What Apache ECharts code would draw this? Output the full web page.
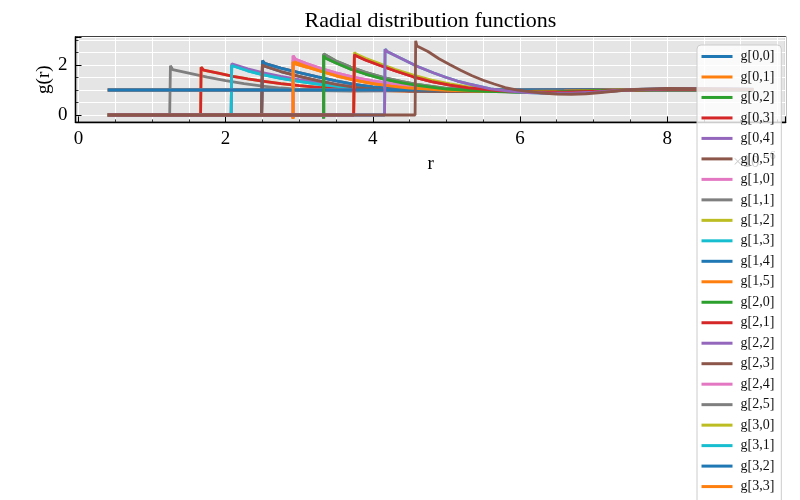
<!DOCTYPE html>
<html>
<head>
<meta charset="utf-8">
<script src="https://cdn.jsdelivr.net/npm/echarts@6/dist/echarts.min.js"></script>
<style>
  html, body { margin: 0; padding: 0; background: #fff; }
  #chart { width: 800px; height: 500px; }
</style>
</head>
<body>
<div id="chart"></div>
<script>
// tab10 colour cycle
var colors = ['#1f77b4', '#ff7f0e', '#2ca02c', '#d62728', '#9467bd',
              '#8c564b', '#e377c2', '#7f7f7f', '#bcbd22', '#17becf'];

var xTicks = [0, 2, 4, 6, 8];
var yTicks = [0, 2];

// species 0 has no correlation: g = 1 everywhere
var flat = [[0.4, 1], [9.17, 1]];

// [r, g(r)], one list per (i, j) pair
var g11 = [[0.4, 0], [1.24, 0], [1.25, -0.06], [1.25, 1.97], [1.28, 1.82], [1.5, 1.68], [1.75, 1.52], [2.0, 1.38], [2.25, 1.26], [2.5, 1.16], [2.75, 1.08], [3.0, 1.02], [3.3, 0.98], [3.7, 0.96], [4.2, 0.97], [4.8, 0.99], [5.6, 1.0], [9.17, 1.0]];
var g12 = [[0.4, 0], [1.66, 0], [1.667, -0.06], [1.667, 1.91], [1.7, 1.8], [1.9, 1.68], [2.1, 1.55], [2.3, 1.45], [2.5, 1.36], [2.75, 1.26], [3.0, 1.18], [3.3, 1.1], [3.6, 1.04], [4.0, 0.99], [4.5, 0.96], [5.0, 0.96], [5.6, 0.98], [6.4, 1.0], [9.17, 1.0]];
var g13 = [[0.4, 0], [2.075, 0], [2.083, -0.07], [2.083, 1.98], [2.11, 1.92], [2.3, 1.77], [2.5, 1.62], [2.75, 1.47], [3.0, 1.35], [3.3, 1.22], [3.6, 1.12], [4.0, 1.04], [4.5, 0.98], [5.0, 0.96], [5.6, 0.97], [6.3, 0.99], [7.2, 1.0], [9.17, 1.0]];
var g22 = [[0.4, 0], [2.075, 0], [2.083, -0.07], [2.083, 2.05], [2.11, 1.99], [2.3, 1.85], [2.5, 1.7], [2.75, 1.55], [3.0, 1.42], [3.3, 1.29], [3.6, 1.17], [4.0, 1.07], [4.5, 1.0], [5.0, 0.96], [5.6, 0.96], [6.3, 0.99], [7.2, 1.01], [9.17, 1.0]];
var g14 = [[0.4, 0], [2.49, 0], [2.5, -0.07], [2.5, 2.01], [2.53, 1.95], [2.75, 1.74], [3.0, 1.55], [3.25, 1.38], [3.5, 1.23], [3.75, 1.11], [4.0, 1.04], [4.5, 0.97], [5.0, 0.94], [5.5, 0.95], [6.2, 0.99], [7.0, 1.01], [9.17, 1.0]];
var g23 = [[0.4, 0], [2.49, 0], [2.5, -0.07], [2.5, 2.17], [2.53, 2.07], [2.75, 1.88], [3.0, 1.7], [3.25, 1.53], [3.5, 1.37], [3.75, 1.23], [4.0, 1.13], [4.5, 1.01], [5.0, 0.95], [5.5, 0.94], [6.2, 0.97], [7.0, 1.01], [9.17, 1.01]];
var g15 = [[0.4, 0], [2.91, 0], [2.917, -0.15], [2.917, 2.12], [2.95, 2.05], [3.1, 1.92], [3.3, 1.74], [3.5, 1.57], [3.75, 1.4], [4.0, 1.26], [4.25, 1.16], [4.5, 1.08], [5.0, 0.99], [5.5, 0.95], [6.0, 0.94], [6.6, 0.96], [7.3, 1.0], [8.2, 1.02], [9.17, 1.01]];
var g24 = [[0.4, 0], [2.91, 0], [2.917, -0.1], [2.917, 2.37], [2.95, 2.23], [3.1, 2.06], [3.3, 1.86], [3.5, 1.69], [3.75, 1.51], [4.0, 1.37], [4.25, 1.26], [4.5, 1.17], [5.0, 1.04], [5.5, 0.97], [6.0, 0.94], [6.6, 0.95], [7.3, 0.99], [8.2, 1.02], [9.17, 1.01]];
var g33 = [[0.4, 0], [2.91, 0], [2.917, -0.12], [2.917, 2.2], [2.95, 2.12], [3.1, 1.97], [3.3, 1.79], [3.5, 1.62], [3.75, 1.45], [4.0, 1.31], [4.25, 1.21], [4.5, 1.12], [5.0, 1.01], [5.5, 0.96], [6.0, 0.94], [6.6, 0.95], [7.3, 0.99], [8.2, 1.02], [9.17, 1.01]];
var g25 = [[0.4, 0], [3.325, 0], [3.333, -0.14], [3.333, 2.38], [3.36, 2.27], [3.5, 2.08], [3.7, 1.83], [3.9, 1.64], [4.15, 1.44], [4.4, 1.29], [4.6, 1.19], [5.0, 1.04], [5.5, 0.95], [6.0, 0.92], [6.5, 0.93], [7.0, 0.97], [7.5, 1.0], [8.3, 1.02], [9.17, 1.01]];
var g34 = [[0.4, 0], [3.325, 0], [3.333, -0.1], [3.333, 2.44], [3.36, 2.36], [3.5, 2.16], [3.7, 1.92], [3.9, 1.71], [4.15, 1.5], [4.4, 1.34], [4.6, 1.23], [5.0, 1.07], [5.5, 0.97], [6.0, 0.92], [6.5, 0.92], [7.0, 0.96], [7.5, 1.0], [8.3, 1.03], [9.17, 1.01]];
var g35 = [[0.4, 0], [3.74, 0], [3.75, -0.08], [3.75, 2.42], [3.78, 2.36], [3.9, 2.2], [4.1, 1.98], [4.3, 1.77], [4.55, 1.53], [4.8, 1.34], [5.05, 1.2], [5.3, 1.09], [5.7, 0.98], [6.2, 0.91], [6.6, 0.91], [7.1, 0.95], [7.5, 1.0], [8.0, 1.03], [8.6, 1.03], [9.17, 1.02]];
var g44 = [[0.4, 0], [3.74, 0], [3.75, -0.06], [3.75, 2.5], [3.78, 2.43], [3.9, 2.27], [4.1, 2.05], [4.3, 1.83], [4.55, 1.6], [4.8, 1.4], [5.05, 1.25], [5.3, 1.13], [5.7, 1.0], [6.2, 0.92], [6.6, 0.91], [7.1, 0.95], [7.5, 1.0], [8.0, 1.03], [8.6, 1.03], [9.17, 1.02]];
var g45 = [[0.4, 0], [4.16, 0], [4.167, -0.06], [4.167, 2.63], [4.2, 2.53], [4.38, 2.27], [4.6, 1.95], [4.83, 1.68], [5.0, 1.5], [5.15, 1.36], [5.3, 1.25], [5.6, 1.05], [5.85, 0.96], [6.1, 0.9], [6.4, 0.87], [6.7, 0.87], [7.0, 0.91], [7.3, 0.97], [7.6, 1.02], [8.0, 1.05], [8.5, 1.05], [9.17, 1.03]];
var g55 = [[0.4, 0], [4.575, 0], [4.583, -0.04], [4.583, 2.97], [4.6, 2.76], [4.75, 2.54], [4.9, 2.25], [5.05, 2.01], [5.2, 1.78], [5.35, 1.57], [5.5, 1.39], [5.65, 1.24], [5.8, 1.1], [5.95, 1.01], [6.1, 0.95], [6.3, 0.88], [6.5, 0.84], [6.7, 0.83], [6.9, 0.85], [7.1, 0.9], [7.3, 0.96], [7.55, 1.02], [8.0, 1.06], [8.5, 1.05], [9.17, 1.02]];

var pairs = {
  '1,1': g11, '1,2': g12, '1,3': g13, '1,4': g14, '1,5': g15,
  '2,2': g22, '2,3': g23, '2,4': g24, '2,5': g25,
  '3,3': g33, '3,4': g34, '3,5': g35,
  '4,4': g44, '4,5': g45, '5,5': g55
};

function curveFor(i, j) {
  if (i === 0 || j === 0) return flat;
  return pairs[Math.min(i, j) + ',' + Math.max(i, j)];
}

var FONT = 'Liberation Serif';
var names = [];
var series = [];
for (var i = 0; i < 6; i++) {
  for (var j = 0; j < 6; j++) {
    var name = 'g[' + i + ',' + j + ']';
    names.push(name);
    series.push({
      name: name,
      type: 'line',
      symbol: 'none',
      showSymbol: false,
      lineStyle: { width: 2.8 },
      emphasis: { disabled: true },
      data: curveFor(i, j)
    });
  }
}

function tickFormatter(list) {
  return function (v) {
    for (var k = 0; k < list.length; k++) {
      if (Math.abs(v - list[k]) < 1e-9) return String(list[k]);
    }
    return '';
  };
}

var chart = echarts.init(document.getElementById('chart'));

chart.setOption({
  animation: false,
  color: colors,
  grid: {
    left: 75.5,
    right: 14.4,
    top: 36.9,
    bottom: 377.6,
    show: true,
    backgroundColor: '#e5e5e5',
    borderColor: '#000',
    borderWidth: 1.3,
    containLabel: false
  },
  graphic: [
    {
      type: 'text', x: 430.5, y: 21, z: 10,
      style: {
        text: 'Radial distribution functions',
        fontFamily: FONT, fontSize: 22, fill: '#000',
        align: 'center', verticalAlign: 'middle'
      }
    },
    {
      type: 'text', x: 733, y: 163, z: 0,
      style: { text: '×10', fontFamily: FONT, fontSize: 17, fill: '#000', verticalAlign: 'middle' }
    },
    {
      type: 'text', x: 763, y: 156, z: 0,
      style: { text: '−6', fontFamily: FONT, fontSize: 12, fill: '#000', verticalAlign: 'middle' }
    }
  ],
  legend: {
    data: names,
    orient: 'vertical',
    left: 697,
    top: 45,
    height: 1200,
    itemWidth: 31,
    itemHeight: 12,
    itemGap: 6.48,
    padding: [4.5, 7, 4, 3],
    backgroundColor: 'rgba(255,255,255,0.8)',
    borderColor: '#cccccc',
    borderWidth: 1,
    borderRadius: 4,
    selectedMode: false,
    itemStyle: { opacity: 0 },
    lineStyle: { width: 3 },
    textStyle: { fontFamily: FONT, fontSize: 14, color: '#111', padding: [0, 0, 0, 3] }
  },
  xAxis: {
    type: 'value',
    min: -0.04,
    max: 9.61,
    minInterval: 2,
    maxInterval: 2,
    name: 'r',
    nameLocation: 'middle',
    nameGap: 32,
    nameTextStyle: { fontFamily: FONT, fontSize: 19, color: '#000' },
    axisLine: { show: true, onZero: false, lineStyle: { color: '#000', width: 1.3 } },
    axisTick: { show: true, inside: true, length: 6, lineStyle: { color: '#000', width: 1 } },
    minorTick: { show: true, splitNumber: 4, length: 3, lineStyle: { color: '#000', width: 0.8 } },
    splitLine: { show: true, lineStyle: { color: '#fff', width: 1 } },
    minorSplitLine: { show: true, lineStyle: { color: '#fff', width: 1 } },
    axisLabel: {
      margin: 7,
      fontFamily: FONT, fontSize: 19, color: '#000',
      formatter: tickFormatter(xTicks)
    }
  },
  yAxis: {
    type: 'value',
    min: -0.296,
    max: 3.126,
    minInterval: 2,
    maxInterval: 2,
    name: 'g(r)',
    nameLocation: 'middle',
    nameGap: 22,
    nameMoveOverlap: false,
    nameTextStyle: { fontFamily: FONT, fontSize: 19, color: '#000' },
    axisLine: { show: true, onZero: false, lineStyle: { color: '#000', width: 1.3 } },
    axisTick: { show: true, inside: true, length: 6, lineStyle: { color: '#000', width: 1 } },
    minorTick: { show: true, splitNumber: 4, length: 3, lineStyle: { color: '#000', width: 0.8 } },
    splitLine: { show: true, lineStyle: { color: '#fff', width: 1 } },
    minorSplitLine: { show: true, lineStyle: { color: '#fff', width: 1 } },
    axisLabel: {
      margin: 8,
      fontFamily: FONT, fontSize: 19, color: '#000',
      formatter: tickFormatter(yTicks)
    }
  },
  series: series
});

window.addEventListener('resize', function () {
  chart.resize();
});
</script>
</body>
</html>
